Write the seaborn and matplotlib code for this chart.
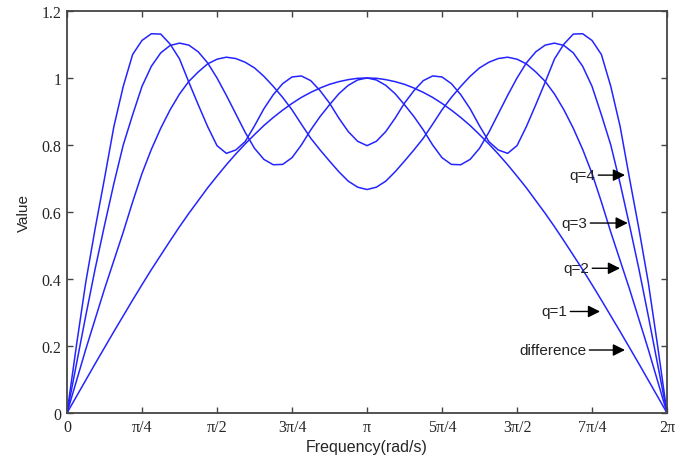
import numpy as np
import pandas as pd
import seaborn as sns
import matplotlib.pyplot as plt

# sample points, pi/32 apart
w = np.linspace(0, 2 * np.pi, 65)

# values for 0..pi; the curves are mirrored about pi
q1_half = [0, 0.049, 0.098, 0.147, 0.195, 0.243, 0.29, 0.337, 0.383, 0.428,
           0.471, 0.514, 0.556, 0.596, 0.634, 0.672, 0.707, 0.741, 0.773, 0.803,
           0.831, 0.858, 0.882, 0.904, 0.924, 0.942, 0.957, 0.97, 0.981, 0.989,
           0.995, 0.999, 1.0]
q2_half = [0, 0.095, 0.19, 0.28, 0.37, 0.455, 0.54, 0.63, 0.715, 0.787, 0.85,
           0.905, 0.952, 0.99, 1.018, 1.042, 1.056, 1.062, 1.058, 1.047, 1.03,
           1.005, 0.975, 0.942, 0.905, 0.862, 0.82, 0.785, 0.752, 0.72, 0.692,
           0.674, 0.667]
q3_half = [0, 0.145, 0.29, 0.43, 0.56, 0.685, 0.80, 0.89, 0.975, 1.035, 1.075,
           1.097, 1.104, 1.098, 1.078, 1.045, 1.0, 0.948, 0.893, 0.838, 0.79,
           0.757, 0.741, 0.742, 0.762, 0.80, 0.845, 0.885, 0.92, 0.953, 0.978,
           0.994, 1.0]
q4_half = [0, 0.20, 0.39, 0.55, 0.70, 0.855, 0.975, 1.07, 1.112, 1.132, 1.131,
           1.101, 1.057, 0.987, 0.92, 0.855, 0.798, 0.775, 0.785, 0.81, 0.857,
           0.908, 0.95, 0.983, 1.003, 1.006, 0.992, 0.962, 0.925, 0.88, 0.84,
           0.811, 0.798]

q1 = q1_half + q1_half[-2::-1]
q2 = q2_half + q2_half[-2::-1]
q3 = q3_half + q3_half[-2::-1]
q4 = q4_half + q4_half[-2::-1]

tick_pos = [0, np.pi/4, np.pi/2, 3*np.pi/4, np.pi, 5*np.pi/4, 3*np.pi/2, 7*np.pi/4, 2*np.pi]
tick_lab = ['0', 'π/4', 'π/2', '3π/4', 'π', '5π/4', '3π/2', '7π/4', '2π']

# annotation labels: text, arrow tip x, text right edge x, y
ann_text = ['q=4', 'q=3', 'q=2', 'q=1', 'difference']
ann_tip_x = [5.843, 5.872, 5.791, 5.582, 5.843]
ann_txt_x = [5.529, 5.445, 5.466, 5.236, 5.435]
ann_y = [0.71, 0.567, 0.432, 0.303, 0.188]

n = len(w)
df = pd.DataFrame({
    'w': np.tile(w, 4),
    'value': q1 + q2 + q3 + q4,
    'curve': ['q=1'] * n + ['q=2'] * n + ['q=3'] * n + ['q=4'] * n,
})

sns.set_style('ticks')
plt.rcParams['font.family'] = ['Liberation Sans', 'DejaVu Sans']

fig = plt.figure(figsize=(6.9, 4.6), dpi=100)
ax = fig.add_axes([0.0971, 0.1, 0.8696, 0.874])

sns.lineplot(data=df, x='w', y='value', hue='curve', palette=['#2424ff'] * 4,
             legend=False, linewidth=1.1, sort=False, estimator=None, ax=ax)

ax.set_xlim(0, 2 * np.pi)
ax.set_ylim(0, 1.2)
ax.set_xticks(tick_pos)
ax.set_xticklabels(tick_lab, family=['Liberation Serif', 'DejaVu Serif'], fontsize=11.5)
ax.set_yticks([0, 0.2, 0.4, 0.6, 0.8, 1.0, 1.2])
ax.set_yticklabels(['0', '0.2', '0.4', '0.6', '0.8', '1', '1.2'],
                   family=['Liberation Serif', 'DejaVu Serif'], fontsize=11.5)
ax.tick_params(direction='in', length=4, width=1, top=True, right=True,
               color='#444444', pad=4)
for s in ax.spines.values():
    s.set_visible(True)
    s.set_color('#444444')
    s.set_linewidth(1.3)

ax.set_xlabel('Frequency(rad/s)', fontsize=11.5, labelpad=3)
ax.set_ylabel('Value', fontsize=11, labelpad=8)

for t, tx, lx, y in zip(ann_text, ann_tip_x, ann_txt_x, ann_y):
    ax.annotate(t, xy=(tx, y), xytext=(lx, y), ha='right', va='center',
                fontsize=11, color='#222222',
                arrowprops=dict(arrowstyle='-|>', color='black', lw=1,
                                shrinkA=0, shrinkB=0, mutation_scale=18))

plt.savefig('out.png', dpi=100)
